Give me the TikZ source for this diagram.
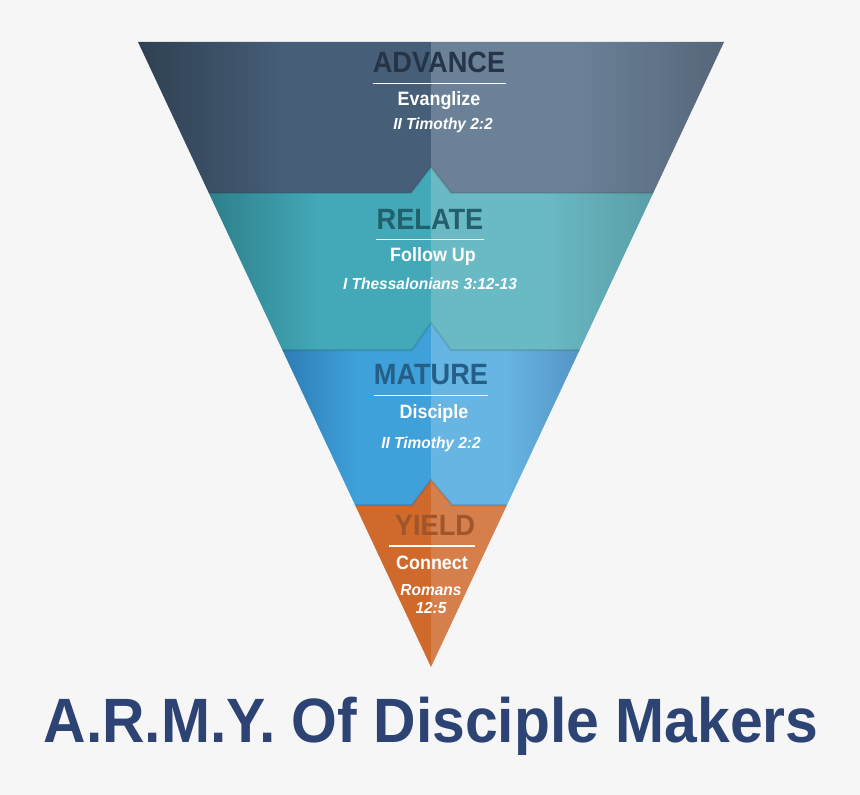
\documentclass[tikz,border=0pt]{standalone}
\usepackage{fontspec}
\IfFontExistsTF{Liberation Sans Narrow}
  {\setmainfont{Liberation Sans Narrow}}
  {\setmainfont{Liberation Sans}[FakeStretch=0.82]}
\usepackage{tikz}
\usetikzlibrary{calc}
\usetikzlibrary{positioning}

\definecolor{bgG}{HTML}{F6F6F6}
\definecolor{advE}{HTML}{2F4052}
\definecolor{advL}{HTML}{465E77}
\definecolor{advR}{HTML}{6B8197}
\definecolor{advRE}{HTML}{56667A}
\definecolor{advT}{HTML}{253447}
\definecolor{relE}{HTML}{2D7F8A}
\definecolor{relL}{HTML}{43A9B8}
\definecolor{relR}{HTML}{6ABAC5}
\definecolor{relRE}{HTML}{5A9EA6}
\definecolor{relT}{HTML}{235F6C}
\definecolor{matE}{HTML}{2E7DB5}
\definecolor{matL}{HTML}{3FA0DA}
\definecolor{matR}{HTML}{66B5E3}
\definecolor{matRE}{HTML}{5594C4}
\definecolor{matT}{HTML}{255F87}
\definecolor{yldL}{HTML}{CF692C}
\definecolor{yldR}{HTML}{D47F4C}
\definecolor{yldT}{HTML}{A0552B}
\definecolor{armyB}{HTML}{2C4373}

\begin{document}
\begin{tikzpicture}[x=0.75pt,y=-0.75pt]
\tikzstyle{head}=[anchor=base,inner sep=0pt,xscale=1.13,
  font=\fontsize{22}{22}\selectfont\bfseries]
\tikzstyle{sub}=[anchor=base,inner sep=0pt,text=white,xscale=1.13,
  font=\fontsize{14.5}{15}\selectfont\bfseries]
\tikzstyle{verse}=[anchor=base,inner sep=0pt,text=white,xscale=1.18,
  font=\fontsize{12}{13}\selectfont\bfseries\itshape]
\tikzstyle{hrule}=[white,line width=1pt]
\tikzstyle{seam}=[black,opacity=0.1,line width=1.5pt]

	\fill[bgG] (0,0) rectangle (860,795);
	\useasboundingbox (0,0) rectangle (860,795);

	% funnel outline
	\coordinate (tl) at (138,42);
	\coordinate (tr) at (724,42);
	\coordinate (ap) at (431,667);
	\foreach \n/\t in {1/0.2416,2/0.4928,3/0.7408}{
		\coordinate (L\n) at ($(tl)!\t!(ap)$);
		\coordinate (R\n) at ($(tr)!\t!(ap)$);
	}

	% advance
	\shade[left color=advE, right color=advL, middle color=advL] 
	(tl) -- (431,42) -- (431,193) -- (L1) -- cycle;
	\shade[left color=advR, right color=advRE, middle color=advR] 
	(431,42) -- (tr) -- (R1) -- (431,193) -- cycle;

	% relate
	\shade[left color=relE, right color=relL, middle color=relL] 
	(L1) -- (411,193) -- (431,167) -- (431,350) -- (L2) -- cycle;
	\shade[left color=relR, right color=relRE, middle color=relR] 
	(431,167) -- (451,193) -- (R1) -- (R2) -- (431,350) -- cycle;
	\draw[seam] (L1) -- (411,193) -- (431,167) -- (451,193) -- (R1);

	% mature
	\shade[left color=matE, right color=matL, middle color=matL] 
	(L2) -- (412,350) -- (431,323) -- (431,505) -- (L3) -- cycle;
	\shade[left color=matR, right color=matRE, middle color=matR] 
	(431,323) -- (451,350) -- (R2) -- (R3) -- (431,505) -- cycle;
	\draw[seam] (L2) -- (412,350) -- (431,323) -- (451,350) -- (R2);

	% yield
	\fill[yldL] (L3) -- (412,505) -- (431,480) -- (ap) -- cycle;
	\fill[yldR] (431,480) -- (452,505) -- (R3) -- (ap) -- cycle;
	\draw[seam] (L3) -- (412,505) -- (431,480) -- (452,505) -- (R3);

	% labels
	\node[head,text=advT] (A1) at (439,73) {ADVANCE};
	\draw[hrule] ([yshift=-7.5pt]A1.south west) -- ([yshift=-7.5pt]A1.south east);
	\node[sub] (A2) at (439,106) {Evanglize};
	\node[verse] (A3) at (443,130) {II Timothy 2:2};

	\node[head,text=relT] (R1t) at (430,229) {RELATE};
	\draw[hrule] ([yshift=-7.5pt]R1t.south west) -- ([yshift=-7.5pt]R1t.south east);
	\node[sub] (R2t) at (433,261) {Follow Up};
	\node[verse] (R3t) at (430,289) {I Thessalonians 3:12-13};

	\node[head,text=matT] (M1) at (431,384) {MATURE};
	\draw[hrule] ([yshift=-8pt]M1.south west) -- ([yshift=-8pt]M1.south east);
	\node[sub] (M2) at (434,418) {Disciple};
	\node[verse] (M3) at (431,448) {II Timothy 2:2};

	\node[head,text=yldT] (Y1) at (435,535) {YIELD};
	\draw[hrule] ([yshift=-8pt,xshift=-4pt]Y1.south west) -- ([yshift=-8pt]Y1.south east);
	\node[sub] (Y2) at (432,569) {Connect};
	\node[verse] (Y3) at (431,595) {Romans};
	\node[verse] (Y4) at (431,613) {12:5};

	% title
	\node[anchor=base,inner sep=0pt,text=armyB,xscale=1.145,
	font=\fontsize{47}{47}\selectfont\bfseries] (T) at (431,742) 
	{A.R.M.Y. Of Disciple Makers};
\end{tikzpicture}
\end{document}
